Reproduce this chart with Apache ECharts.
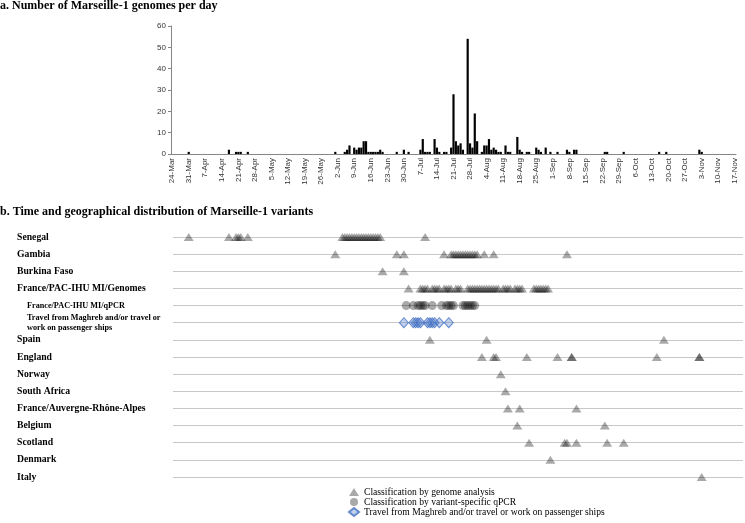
<!DOCTYPE html>
<html><head><meta charset="utf-8">
<script src="https://cdn.jsdelivr.net/npm/echarts@6/dist/echarts.min.js"></script>
<style>html,body{margin:0;padding:0;background:#fff}#c{width:745px;height:523px}</style>
</head><body><div id="c"></div>
<script>
// ---- DATA ----
const startYear = 2020, startMonth = 2, startDay = 24; // 24-Mar
const dayCount = 239;
const monthNames = ['Jan','Feb','Mar','Apr','May','Jun','Jul','Aug','Sep','Oct','Nov','Dec'];
const yTicks = [0, 10, 20, 30, 40, 50, 60];
// number of Marseille-1 genomes per day, from 24-Mar (index 0)
const genomesPerDay = [
  0,0,0,0,0,0,0,  1,0,0,0,0,0,0,  0,0,0,0,0,0,0,  0,0,0,2,0,0,1,
  1,1,0,0,1,0,0,  0,0,0,0,0,0,0,  0,0,0,0,0,0,0,  0,0,0,0,0,0,0,
  0,0,0,0,0,0,0,  0,0,0,0,0,0,1,  0,0,0,1,2,4,0,  3,2,3,3,6,6,1,
  1,1,1,1,2,1,0,  0,0,0,0,1,0,0,  2,0,1,0,0,0,0,  2,7,1,1,1,0,7,
  3,1,0,1,1,0,3,  28,6,4,5,2,0,54, 5,3,19,6,0,1,4, 4,7,2,3,2,1,1,
  0,4,1,1,0,0,8,  2,1,0,1,1,0,0,  3,2,1,0,3,0,1,  0,0,1,0,0,0,2,
  1,0,2,2,0,0,0,  0,0,0,0,0,0,0,  0,1,1,0,0,0,0,  0,0,1,0,0,0,0,
  0,0,0,0,0,0,0,  0,0,0,1,0,0,1,  0,0,0,0,0,0,0,  0,0,0,0,0,0,2,
  1,0,0,0,0,0,0,  0,0,0,0,0,0,0,  0
];
const rowNames = ['Senegal','Gambia','Burkina Faso','France/PAC-IHU MI/Genomes',
  'France/PAC-IHU MI/qPCR','Travel from Maghreb and/or travel or\nwork on passenger ships',
  'Spain','England','Norway','South Africa','France/Auvergne-Rhône-Alpes','Belgium',
  'Scotland','Denmark','Italy'];
const subRows = [4, 5];
// days (index from 24-Mar) of genomes, per row
const genomeDays = [
  [7, 24, 27, 28, 29, 32, 72, 73, 74, 75, 76, 77, 78, 79, 80, 81, 82, 83, 84, 85, 86, 87, 88, 107],
  [69, 95, 98, 115, 118, 119, 120, 121, 122, 123, 124, 125, 126, 127, 128, 129, 132, 136, 167],
  [89, 98],
  [100, 105, 106, 107, 108, 110, 111, 112, 113, 115, 116, 117, 118, 120, 121, 122, 125, 126, 127, 128, 129, 130,
   131, 132, 133, 134, 135, 136, 137, 138, 140, 141, 142, 143, 145, 146, 147, 148, 153, 154, 155, 156, 157, 158, 159],
  [],
  [],
  [109, 133, 208],
  [131, 136, 137, 150, 163, 169, 169, 205, 223, 223],
  [139],
  [141],
  [142, 147, 171],
  [146, 183],
  [151, 166, 167, 171, 184, 191],
  [160],
  [224]
];
const qpcrRow = 4;
const qpcrDays = [99, 102, 104, 105, 106, 107, 110, 114, 116, 117, 118, 119, 123, 124, 125, 126, 127, 128];
const travelRow = 5;
const travelDays = [98, 102, 103, 104, 105, 108, 109, 110, 111, 113, 117];
const legendNames = ['Classification by genome analysis', 'Classification by variant-specific qPCR',
  'Travel from Maghreb and/or travel or work on passenger ships'];
const titleA = 'a. Number of Marseille-1 genomes per day';
const titleB = 'b. Time and geographical distribution of Marseille-1 variants';

// ---- BUILD ----
const categories = [];
for (let i = 0; i < dayCount; i++) {
  const d = new Date(startYear, startMonth, startDay + i);
  categories.push(d.getDate() + '-' + monthNames[d.getMonth()]);
}
const genomePts = [];
genomeDays.forEach((arr, r) => arr.forEach(d => genomePts.push([d, r])));
const qpcrPts = qpcrDays.map(d => [d, qpcrRow]);
const travelPts = travelDays.map(d => [d, travelRow]);

const serif = 'Liberation Serif';
const sans = 'Liberation Sans';
const pxPerDay = 2.364, gridLeft = 171;
const bottomLeft = 173, bottomWidth = 570;
const xMin = (bottomLeft - (gridLeft + pxPerDay / 2)) / pxPerDay;
const xMax = xMin + bottomWidth / pxPerDay;

const chart = echarts.init(document.getElementById('c'), null, {renderer: 'canvas'});
chart.setOption({
  animation: false,
  title: [
    {text: titleA, left: -5, top: -5, textStyle: {fontFamily: serif, fontWeight: 'bold', fontSize: 12, color: '#000'}},
    {text: titleB, left: -5, top: 201, textStyle: {fontFamily: serif, fontWeight: 'bold', fontSize: 12, color: '#000'}}
  ],
  legend: {
    orient: 'vertical', left: 348, top: 487, height: 36, padding: 0,
    itemWidth: 10, itemHeight: 8, itemGap: 0,
    selectedMode: false,
    textStyle: {fontFamily: serif, fontSize: 9.6, lineHeight: 9.8, color: '#000'},
    data: [
      {name: legendNames[0], icon: 'triangle'},
      {name: legendNames[1], icon: 'circle'},
      {name: legendNames[2], icon: 'diamond'}
    ]
  },
  grid: [
    {left: gridLeft, top: 26, width: dayCount * pxPerDay, height: 128},
    {left: bottomLeft, top: 237, width: bottomWidth, height: 240}
  ],
  xAxis: [
    {type: 'category', gridIndex: 0, data: categories, boundaryGap: true,
     axisLine: {lineStyle: {color: '#868686'}},
     axisTick: {interval: 6, alignWithLabel: true, length: 3, lineStyle: {color: '#868686'}},
     axisLabel: {interval: 6, rotate: 90, fontSize: 8, fontFamily: sans, color: '#333', margin: 4}},
    {type: 'value', gridIndex: 1, min: xMin, max: xMax, show: false}
  ],
  yAxis: [
    {type: 'value', gridIndex: 0, min: yTicks[0], max: yTicks[yTicks.length - 1], interval: 10,
     axisLine: {show: true, lineStyle: {color: '#868686'}},
     axisTick: {show: true, length: 3, lineStyle: {color: '#868686'}},
     splitLine: {show: false},
     axisLabel: {fontSize: 8, fontFamily: sans, color: '#333', margin: 5}},
    {type: 'value', gridIndex: 1, min: 0, max: rowNames.length - 1, interval: 1, inverse: true,
     axisLine: {show: false}, axisTick: {show: false},
     splitLine: {show: true, lineStyle: {color: '#c8c8c8', width: 1}},
     axisLabel: {
       align: 'left', margin: 156,
       formatter: v => {
         const name = rowNames[v];
         if (name === undefined) return '';
         if (subRows.indexOf(v) >= 0) return name.split('\n').map(s => '{s|' + s + '}').join('\n');
         return '{m|' + name + '}';
       },
       rich: {
         m: {fontFamily: serif, fontWeight: 'bold', fontSize: 9.7, color: '#000'},
         s: {fontFamily: serif, fontWeight: 'bold', fontSize: 8.2, color: '#000', padding: [0, 0, 0, 10], lineHeight: 10}
       }
     }}
  ],
  series: [
    {type: 'bar', name: 'genomes', xAxisIndex: 0, yAxisIndex: 0, data: genomesPerDay,
     barCategoryGap: '8%', itemStyle: {color: '#000'}},
    {type: 'scatter', name: legendNames[0], xAxisIndex: 1, yAxisIndex: 1, data: genomePts,
     symbol: 'triangle', symbolSize: [10, 8], itemStyle: {color: 'rgba(0,0,0,0.42)'}},
    {type: 'scatter', name: legendNames[1], xAxisIndex: 1, yAxisIndex: 1, data: qpcrPts,
     symbol: 'circle', symbolSize: 9, itemStyle: {color: 'rgba(0,0,0,0.42)'}},
    {type: 'scatter', name: legendNames[2], xAxisIndex: 1, yAxisIndex: 1, data: travelPts,
     symbol: 'diamond', symbolSize: [9, 10],
     itemStyle: {color: 'rgba(68,114,196,0.4)', borderColor: '#4472c4', borderWidth: 1}}
  ]
});
</script></body></html>
